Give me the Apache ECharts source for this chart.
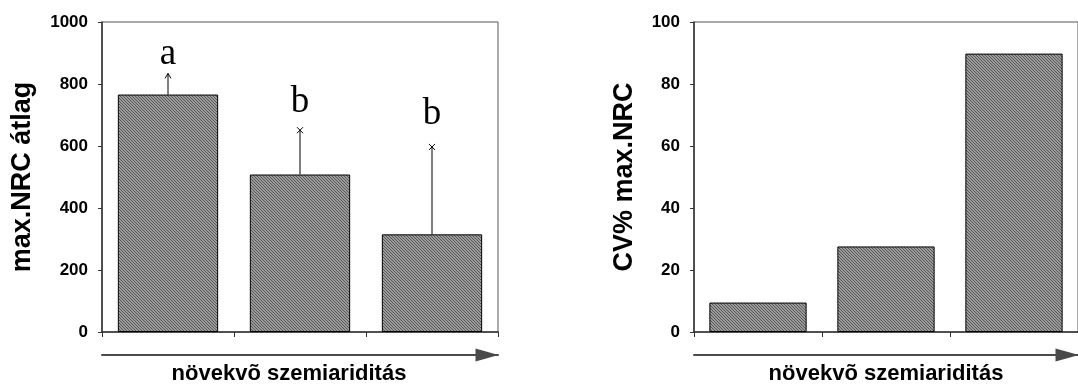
<!DOCTYPE html>
<html>
<head>
<meta charset="utf-8">
<script src="https://cdn.jsdelivr.net/npm/echarts@6/dist/echarts.min.js"></script>
<style>
html,body{margin:0;padding:0;background:#fff;}
#chart{width:1078px;height:390px;}
</style>
</head>
<body>
<div id="chart"></div>
<script>
// ---- data ----
const categories = ['1', '2', '3'];
const meanNRC = [766, 508, 315];
const errUpperNRC = [834, 651, 597];
const sigLetters = ['a', 'b', 'b'];
const cvNRC = [9.5, 27.6, 89.8];
const leftYTitle = 'max.NRC átlag';
const rightYTitle = 'CV% max.NRC';
const xTitle = 'növekvõ szemiariditás';

// ---- styles (not data) ----
const capTypes = ['arrow', 'x', 'x'];
const letterGapPx = [19, 28, 33];

const tile = document.createElement('canvas');
tile.width = 3; tile.height = 3;
const tc = tile.getContext('2d');
tc.fillStyle = '#9c9c9c'; tc.fillRect(0, 0, 3, 3);
tc.fillStyle = '#555555';
for (let i = 0; i < 3; i++) tc.fillRect(i, i, 1, 1);
const hatch = { image: tile, repeat: 'repeat' };

const sans = 'Liberation Sans, Arial, sans-serif';

function yAxisCfg(grid, max, interval, name, gap) {
  return {
    gridIndex: grid, type: 'value', min: 0, max: max, interval: interval,
    axisLine: { show: true, lineStyle: { color: '#333', width: 1.5 } },
    axisTick: { show: true, length: 4, lineStyle: { color: '#333' } },
    splitLine: { show: false },
    axisLabel: { color: '#000', fontFamily: sans, fontWeight: 'bold', fontSize: 17, margin: 14,
      formatter: v => String(v) },
    name: name, nameLocation: 'middle', nameRotate: 90, nameGap: gap,
    nameTextStyle: { color: '#000', fontFamily: sans, fontWeight: 'bold', fontSize: 27 }
  };
}
function xMainCfg(grid, pad) {
  return {
    gridIndex: grid, type: 'category', data: categories,
    axisLine: { show: true, lineStyle: { color: '#333', width: 1.5 } },
    axisTick: { show: true, length: 5, lineStyle: { color: '#333' } },
    axisLabel: { show: false },
    name: xTitle, nameLocation: 'middle', nameGap: 31,
    nameTextStyle: { color: '#000', fontFamily: sans, fontWeight: 'bold', fontSize: 22, padding: pad }
  };
}
function xArrowCfg(grid) {
  return {
    gridIndex: grid, type: 'category', data: categories, position: 'bottom', offset: 23,
    axisLine: { show: true, onZero: false, symbol: ['none', 'triangle'], symbolSize: [13, 23], symbolOffset: [0, -11],
      lineStyle: { color: '#4a4a4a', width: 2 } },
    axisTick: { show: false }, axisLabel: { show: false }
  };
}

function renderErr(params, api) {
  const i = params.dataIndex;
  const x = api.value(0);
  const b = api.coord([x, api.value(1)]);
  const t = api.coord([x, api.value(2)]);
  const ls = { stroke: '#000', lineWidth: 1 };
  const kids = [{ type: 'line', shape: { x1: b[0], y1: b[1], x2: t[0], y2: t[1] }, style: ls }];
  if (capTypes[i] === 'arrow') {
    kids.push({ type: 'polyline', shape: { points: [[t[0] - 3, t[1] + 5], [t[0], t[1]], [t[0] + 3, t[1] + 5]] }, style: { stroke: '#000', lineWidth: 1, fill: null } });
  } else {
    kids.push({ type: 'line', shape: { x1: t[0] - 3, y1: t[1] - 3, x2: t[0] + 3, y2: t[1] + 3 }, style: ls });
    kids.push({ type: 'line', shape: { x1: t[0] - 3, y1: t[1] + 3, x2: t[0] + 3, y2: t[1] - 3 }, style: ls });
  }
  kids.push({ type: 'text', x: t[0], y: t[1] - letterGapPx[i],
    style: { text: sigLetters[i], fill: '#000', font: '37px "Liberation Serif", "Times New Roman", serif', align: 'center', verticalAlign: 'middle' } });
  return { type: 'group', children: kids };
}

const chart = echarts.init(document.getElementById('chart'), null, { renderer: 'canvas' });
chart.setOption({
  animation: false,
  backgroundColor: '#fff',
  grid: [
    { left: 102, top: 22, width: 396, height: 314, show: true, borderColor: '#555', borderWidth: 1 },
    { left: 694, top: 22, width: 396, height: 314, show: true, borderColor: '#555', borderWidth: 1 }
  ],
  xAxis: [xMainCfg(0, [0, 22, 0, 0]), xArrowCfg(0), xMainCfg(1, 0), xArrowCfg(1)],
  yAxis: [yAxisCfg(0, 1000, 200, leftYTitle, 66), yAxisCfg(1, 100, 20, rightYTitle, 56)],
  series: [
    { type: 'bar', xAxisIndex: 0, yAxisIndex: 0, data: meanNRC, barCategoryGap: '24%',
      itemStyle: { color: hatch, borderColor: '#000', borderWidth: 1 } },
    { type: 'custom', xAxisIndex: 0, yAxisIndex: 0, z: 5,
      data: meanNRC.map((m, i) => [i, m, errUpperNRC[i]]), renderItem: renderErr },
    { type: 'bar', xAxisIndex: 2, yAxisIndex: 1, data: cvNRC, barCategoryGap: '24%',
      itemStyle: { color: hatch, borderColor: '#000', borderWidth: 1 } }
  ]
});
</script>
</body>
</html>
